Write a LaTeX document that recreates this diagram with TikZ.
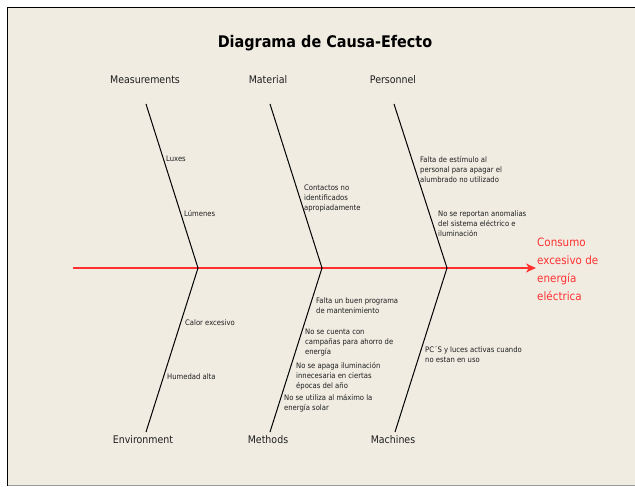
\documentclass[tikz,border=0pt]{standalone}
\usepackage{fontspec}
\setmainfont{DejaVu Sans Condensed}
\usetikzlibrary{arrows.meta}
\definecolor{bg}{HTML}{F0ECE2}
\definecolor{txt}{HTML}{1E1E1E}
\definecolor{spinered}{HTML}{FF3030}
\tikzset{
  bone/.style={draw=black, line width=1pt},
  cat/.style={font=\fontsize{10.5}{12}\selectfont, text=txt, inner sep=0pt},
  cause/.style={font=\fontsize{7.6}{10}\selectfont, text=txt, anchor=west, align=left, inner sep=0pt},
  effect/.style={font=\fontsize{11.5}{18}\selectfont, text=spinered, anchor=west, align=left, inner sep=0pt},
}
\begin{document}
\begin{tikzpicture}[x=1pt,y=-1pt]
\useasboundingbox (0,0) rectangle (635,487);
\fill[white] (0,0) rectangle (635,487);
\fill[bg] (7.5,7.5) rectangle (635,485.5);
\draw[black, line width=1.4pt] (7.5,485.5) -- (7.5,7.5) -- (635,7.5);
\draw[gray!80, line width=1.4pt] (7.5,485.5) -- (635,485.5);

\node[font=\bfseries\fontsize{16}{18}\selectfont, text=black, inner sep=0pt] (title) at (325,43) {Diagrama de Causa-Efecto};

% category labels
\node[cat] (meas) at (145,80) {Measurements};
\node[cat] (mat) at (268,80) {Material};
\node[cat] (pers) at (393,80) {Personnel};
\node[cat] (env) at (143,440) {Environment};
\node[cat] (meth) at (268,440) {Methods};
\node[cat] (mach) at (393,440) {Machines};

% bone coordinates
\coordinate (t1) at (146,104);
\coordinate (v1) at (198,268);
\coordinate (b1) at (146,432);
\coordinate (t2) at (270,104);
\coordinate (v2) at (322,268);
\coordinate (b2) at (270,432);
\coordinate (t3) at (394,104);
\coordinate (v3) at (447,268);
\coordinate (b3) at (395,432);
\coordinate (s0) at (73,268);
\coordinate (s1) at (536,268);

% spine
\draw[spinered, line width=1.5pt, -{Stealth[length=10pt,width=9pt,inset=3pt]}] (s0) -- (s1);

% bones
\draw[bone] (t1) -- (v1) -- (b1);
\draw[bone] (t2) -- (v2) -- (b2);
\draw[bone] (t3) -- (v3) -- (b3);

% effect
\node[effect] (eff) at (537,269) {Consumo\\excesivo de\\energía\\eléctrica};

% causes
\node[cause] (c1) at (166,159) {Luxes};
\node[cause] (c2) at (184,214) {Lúmenes};
\node[cause] (c3) at (304,198) {Contactos no\\identificados\\apropiadamente};
\node[cause] (c4) at (420,170) {Falta de estímulo al\\personal para apagar el\\alumbrado no utilizado};
\node[cause] (c5) at (438,224) {No se reportan anomalias\\del sistema eléctrico e\\iluminación};
\node[cause] (c6) at (185,323) {Calor excesivo};
\node[cause] (c7) at (167,377) {Humedad alta};
\node[cause] (c8) at (316,306) {Falta un buen programa\\de mantenimiento};
\node[cause] (c9) at (305,343) {No se cuenta con\\campañas para ahorro de\\energía};
\node[cause] (c10) at (296,376) {No se apaga iluminación\\innecesaria en ciertas\\épocas del año};
\node[cause] (c11) at (284,403) {No se utiliza al máximo la\\energía solar};
\node[cause] (c12) at (425,355) {PC´S y luces activas cuando\\no estan en uso};
\end{tikzpicture}
\end{document}
